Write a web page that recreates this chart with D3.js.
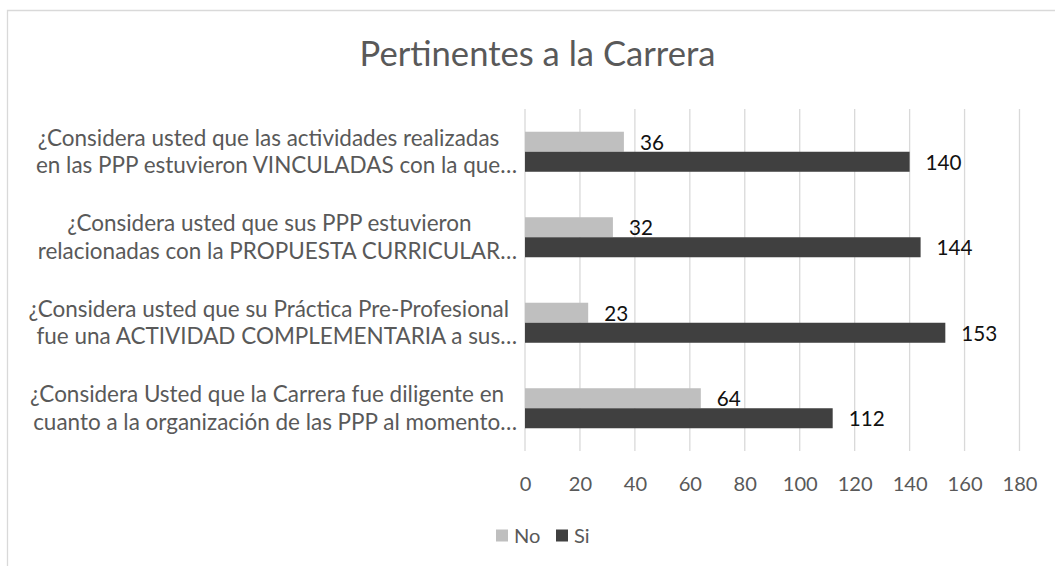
<!DOCTYPE html>
<html>
<head>
<meta charset="utf-8">
<script src="https://cdnjs.cloudflare.com/ajax/libs/d3/7.8.5/d3.min.js"></script>
<style>
  html, body { margin: 0; padding: 0; background: #fff; }
  svg { display: block; }
</style>
</head>
<body>
<svg id="chart" width="1055" height="566"></svg>
<script>
// ---- data ----
const title = "Pertinentes a la Carrera";
const categories = [
  ["¿Considera usted que las actividades realizadas", "en las PPP estuvieron VINCULADAS con la que…"],
  ["¿Considera usted que sus PPP estuvieron", "relacionadas con la PROPUESTA CURRICULAR…"],
  ["¿Considera usted que su Práctica Pre-Profesional", "fue una ACTIVIDAD COMPLEMENTARIA a sus…"],
  ["¿Considera Usted que la Carrera fue diligente en", "cuanto a la organización de las PPP al momento…"]
];
const seriesNames = ["No", "Si"];
const noValues = [36, 32, 23, 64];
const siValues = [140, 144, 153, 112];
const xTicks = [0, 20, 40, 60, 80, 100, 120, 140, 160, 180];
const colors = { No: "#BFBFBF", Si: "#404040" };

// ---- layout ----
const W = 1055, H = 566;
const plot = { left: 525, right: 1019.5, top: 109, bottom: 451 };
const FONT = "Lato, 'Open Sans', sans-serif";
const textGray = "#595959";

const svg = d3.select("#chart");

// helper to fit a font size to a target width
function fitSize(str, target, base) {
  const t = svg.append("text").attr("font-family", FONT).attr("font-size", base).text(str);
  const w = t.node().getComputedTextLength();
  t.remove();
  return base * target / w;
}
const titleSize = fitSize(title, 356, 30);
const catSize = fitSize(categories[0][0], 462, 20);
const tickSize = fitSize("180", 35, 20);
const labelSize = fitSize("140", 36, 20);

// chart border (extends past the image to the right and bottom)
svg.append("path")
  .attr("d", `M7.5,${H + 2} V10.5 H${W + 2}`)
  .attr("fill", "none").attr("stroke", "#D9D9D9").attr("stroke-width", 1.3);

// title
svg.append("text")
  .attr("x", 537.5).attr("y", 66)
  .attr("text-anchor", "middle")
  .attr("font-family", FONT).attr("font-size", titleSize)
  .attr("fill", textGray)
  .text(title);

// scales
const x = d3.scaleLinear().domain([0, 180]).range([plot.left, plot.right]);
const idx = d3.range(categories.length);
const pad = 0.532;
const y0 = d3.scaleBand().domain(idx).range([plot.top, plot.bottom])
  .paddingInner(pad).paddingOuter(pad / 2);
const y1 = d3.scaleBand().domain(seriesNames).range([0, y0.bandwidth()]);

// gridlines
svg.append("g").selectAll("line").data(xTicks).join("line")
  .attr("x1", d => x(d)).attr("x2", d => x(d))
  .attr("y1", plot.top).attr("y2", plot.bottom)
  .attr("stroke", "#D9D9D9").attr("stroke-width", 1.3);

// x axis labels (via d3 axis)
const xAxis = d3.axisBottom(x).tickValues(xTicks).tickSize(0).tickPadding(0).tickFormat(d3.format("d"));
const gx = svg.append("g").attr("transform", `translate(0,${plot.bottom})`).call(xAxis);
gx.select(".domain").remove();
gx.selectAll("text")
  .attr("font-family", FONT).attr("font-size", tickSize)
  .attr("fill", textGray)
  .attr("dy", null)
  .attr("y", 39.5);

// bars
const rows = idx.map(i => ({ i, vals: [ { s: "No", v: noValues[i] }, { s: "Si", v: siValues[i] } ] }));
const groups = svg.append("g").selectAll("g").data(rows).join("g")
  .attr("transform", d => `translate(0,${y0(d.i)})`);
groups.selectAll("rect").data(d => d.vals).join("rect")
  .attr("x", x(0))
  .attr("y", d => y1(d.s))
  .attr("width", d => x(d.v) - x(0))
  .attr("height", y1.bandwidth())
  .attr("fill", d => colors[d.s]);
groups.selectAll("text.lbl").data(d => d.vals).join("text")
  .attr("class", "lbl")
  .attr("x", d => x(d.v) + 16)
  .attr("y", d => y1(d.s) + y1.bandwidth() / 2 + 8)
  .attr("font-family", FONT).attr("font-size", labelSize)
  .attr("fill", "#111")
  .text(d => d.v);

// category labels
const catG = svg.append("g");
categories.forEach((lines, i) => {
  const c = y0(i) + y0.bandwidth() / 2;
  const g = catG.append("g");
  const ts = lines.map((ln, k) => g.append("text")
    .attr("font-family", FONT).attr("font-size", catSize)
    .attr("fill", textGray)
    .attr("text-anchor", "middle")
    .attr("y", k === 0 ? c - 6 : c + 21.5)
    .text(ln));
  const widths = ts.map(t => t.node().getComputedTextLength());
  const blockW = d3.max(widths);
  const right = plot.left - 12;
  const center = right - blockW / 2;
  ts[0].attr("x", center - 4);
  ts[1].attr("x", center + 4);
});

// legend
const legend = svg.append("g");
const legItems = [ { s: "No", x: 496 }, { s: "Si", x: 556 } ];
legItems.forEach(it => {
  legend.append("rect").attr("x", it.x).attr("y", 529.5).attr("width", 12).attr("height", 12)
    .attr("fill", colors[it.s]);
  legend.append("text").attr("x", it.x + 18).attr("y", 543)
    .attr("font-family", FONT).attr("font-size", tickSize)
    .attr("fill", textGray).text(it.s);
});
</script>
</body>
</html>
